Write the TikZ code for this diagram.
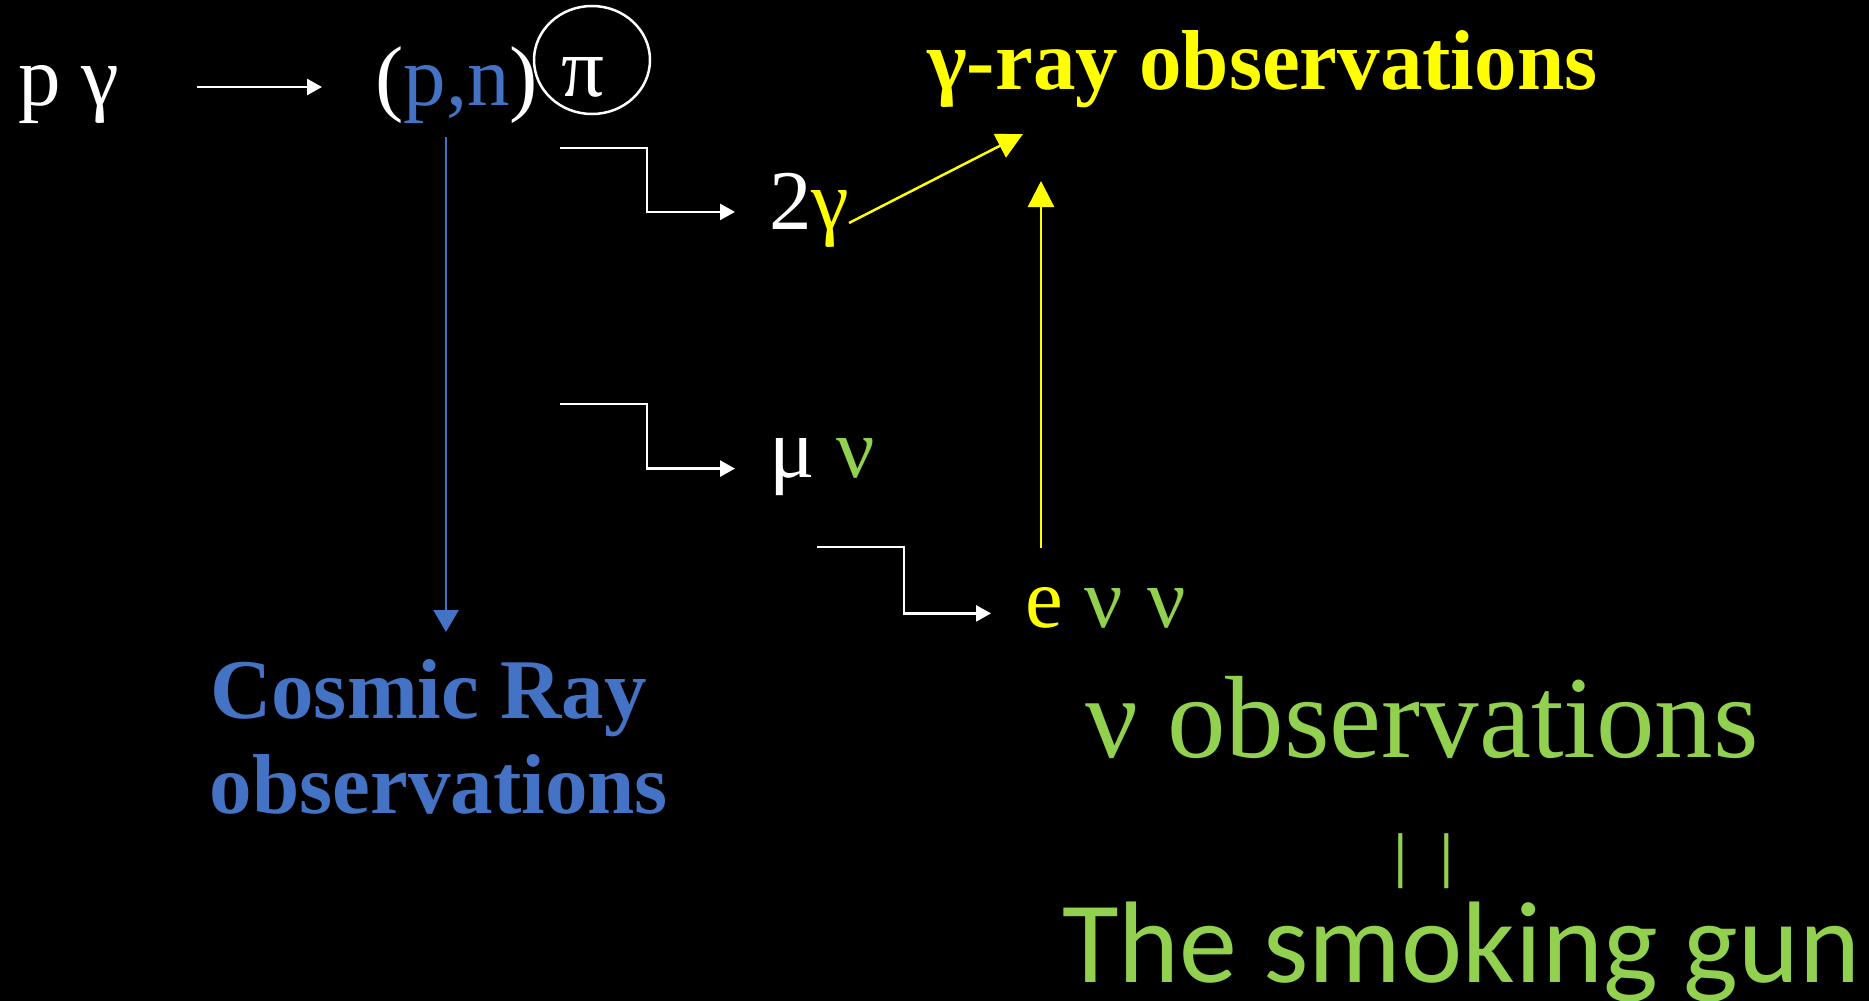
\documentclass[tikz,border=0pt]{standalone}
\usepackage{fontspec}
\setmainfont{Liberation Serif}
\newfontfamily\calibri{Carlito}
\usepackage{xcolor}
\usetikzlibrary{arrows.meta,shapes.geometric}
\definecolor{crblue}{HTML}{4472C4}
\definecolor{nugreen}{HTML}{92D050}
\definecolor{gyellow}{HTML}{FFFF00}

\begin{document}
\begin{tikzpicture}[
  x=1pt,y=-1pt,
  txt/.style={text=white,inner sep=0pt,anchor=base west,font=\fontsize{85}{95}\selectfont},
  obs/.style={inner sep=0pt,font=\fontsize{85}{95}\selectfont\bfseries},
  wtip/.style={-{Triangle[length=15pt,width=16pt]}},
  stepar/.style={draw=white,line width=2.5pt,wtip,shorten >=34pt},
  crar/.style={draw=crblue,line width=2.5pt,-{Triangle[length=22pt,width=25pt]}},
  gar/.style={draw=gyellow,line width=2.5pt,-{Triangle[length=26pt,width=26pt]}}
]
\fill[black] (0,0) rectangle (1869,1001);
\useasboundingbox (0,0) rectangle (1869,1001);

% reaction chain
\node[txt] (pg) at (18,105) {p γ};
\node[txt] (pn) at (375,105) {(\textcolor{crblue}{p,n})};
\node[txt,anchor=base] (pi) at (583,96) {π};
\node[draw=white,line width=2.5pt,ellipse,minimum width=116pt,minimum height=108pt,inner sep=0pt] (pic) at (592,60) {};
\node[txt] (tg) at (769,229) {2\textcolor{gyellow}{γ}};
\node[txt] (mn) at (769,477) {μ \textcolor{nugreen}{ν}};
\node[txt] (env) at (1025,627) {\textcolor{gyellow}{e} \textcolor{nugreen}{ν\hspace{4pt} ν}};

% observations
\node[obs,text=gyellow,anchor=base west] (gro) at (927,89) {γ-ray observations};
\node[obs,text=crblue,align=center,anchor=north] (cr) at (439,659) {Cosmic Ray\hspace*{21pt}\\observations};
\node[inner sep=0pt,text=nugreen,anchor=base west,font=\fontsize{117}{120}\selectfont] (nuo) at (1085,757) {ν observations};
\node[inner sep=0pt,text=nugreen,anchor=center,font=\calibri\fontsize{62}{70}\selectfont] (bars) at (1424,861) {|\hspace{17pt}|};
\node[inner sep=0pt,text=nugreen,anchor=base west,font=\calibri\fontsize{116}{120}\selectfont] (gun) at (1062,982) {The smoking gun};

\coordinate (pgend) at (197,87);
\coordinate (pnfoot) at (446,137);
\coordinate (crtop) at (446,632);
\coordinate (pia) at (560,148);
\coordinate (pib) at (560,404);
\coordinate (mua) at (817,547);
\coordinate (tgfoot) at (849,223);
\coordinate (tgtip) at (1023,134);
\coordinate (enfoot) at (1041,548);
\coordinate (grfoot) at (1041,181);

\draw[draw=white,line width=2.5pt,wtip] (pgend) -- ++(125,0);
\draw[crar] (pnfoot) -- (crtop);
\draw[stepar] (pia) -- ++(87,0) |- ([yshift=-2pt]tg.west);
\draw[stepar] (pib) -- ++(87,0) |- ([yshift=-2pt]mn.west);
\draw[stepar] (mua) -- ++(87,0) |- ([yshift=-6pt]env.west);
\draw[gar] (tgfoot) -- (tgtip);
\draw[gar] (enfoot) -- (grfoot);
\end{tikzpicture}
\end{document}
